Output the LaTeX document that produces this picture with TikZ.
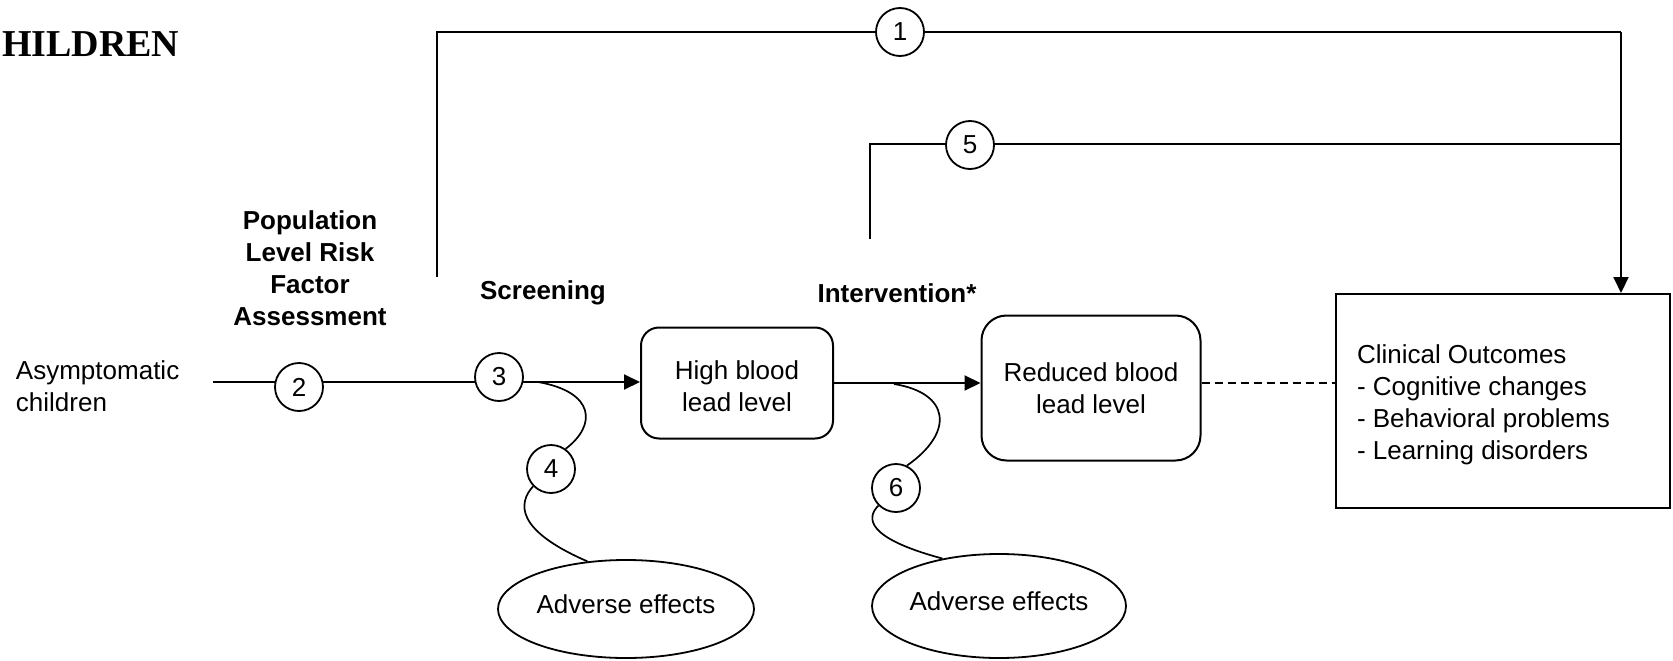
\documentclass[tikz,border=0pt]{standalone}
\usepackage{fontspec}
\setmainfont{Liberation Sans}
\newfontfamily\titlefont{Liberation Serif}
\usetikzlibrary{arrows.meta,shapes.geometric}
\begin{document}
\begin{tikzpicture}[x=1pt,y=-1pt,line width=2pt,
  font=\fontsize{26}{32}\selectfont,
  num/.style={circle,draw,fill=white,minimum size=48pt,inner sep=0pt,line width=1.8pt},
  rbox/.style={draw,rounded corners=18pt,align=center,inner sep=0pt},
  ell/.style={ellipse,draw,inner sep=0pt,line width=1.8pt},
  lab/.style={font=\fontsize{26}{32}\selectfont\bfseries,align=center,inner sep=0pt},
  arr/.style={-{Triangle[length=16pt,width=15pt]}},
  squig/.style={line width=1.7pt}]
\useasboundingbox (0,0) rectangle (1673,661);
\node[anchor=west,inner sep=0pt,font=\titlefont\bfseries\fontsize{38}{38}\selectfont] (title) at (1,44) {HILDREN};
\node[anchor=west,align=left,inner sep=0pt] (asym) at (15,386) {Asymptomatic\\children};
\node[lab] (pop) at (310,268) {Population\\Level Risk\\Factor\\Assessment};
\node[lab] (scr) at (543,293) {Screening};
\node[lab] (int) at (897,293) {Intervention*};
\coordinate (s) at (213,382);
\node[rbox,minimum width=192pt,minimum height=111pt] (high) at (737,383) {};
\node[align=center,inner sep=0pt,yshift=-3pt] (hightext) at (high.center) {High blood\\lead level};
\node[rbox,rounded corners=25pt,minimum width=219pt,minimum height=145pt] (red) at (1091,388) {Reduced blood\\lead level};
\node[draw,minimum width=334pt,minimum height=214pt,inner sep=0pt] (clin) at (1503,401) {};
\node[anchor=west,align=left,inner sep=0pt,xshift=21pt,yshift=-4pt] (clintext) at (clin.west) {Clinical Outcomes\\- Cognitive changes\\- Behavioral problems\\- Learning disorders};
\node[ell,minimum width=256pt,minimum height=98pt] (e1) at (626,609) {\raisebox{9pt}{Adverse effects}};
\node[ell,minimum width=254pt,minimum height=104pt] (e2) at (999,606) {\raisebox{9pt}{Adverse effects}};
\coordinate (p1a) at (437,277);
\coordinate (p1b) at (437,32);
\coordinate (p1c) at (1621,32);
\coordinate (p5a) at (870,239);
\coordinate (p5b) at (870,144);
\coordinate (p5c) at (1621,144);
\coordinate (dy) at (0,383);
\coordinate (q1) at (538,382);
\coordinate (q2) at (894,384);
% main line
\draw[arr] (s) -- (s -| high.west);
\draw[arr] (high.east) -- (high.east -| red.west);
\draw[line width=1.6pt,dash pattern=on 8pt off 5pt] (red.east |- dy) -- (clin.west |- dy);
% top arrows
\draw (p1a) -- (p1b) -- (p1c);
\draw[arr] (p1c) -- (p1c |- clin.north);
\draw (p5a) -- (p5b) -- (p5c);
% numbered circles on the paths
\node[num] (c1) at (900,32) {1};
\node[num] (c5) at (970,145) {5};
\node[num] (c2) at (299,387) {2};
\node[num] (c3) at (499,377) {3};
\node[num] (c4) at (551,469) {4};
\node[num] (c6) at (896,488) {6};
% squiggles
\draw[squig] (q1) .. controls (595,392) and (597,425) .. (c4.54);
\draw[squig] (c4.224) .. controls (518,503) and (515,530) .. (e1.129);
\draw[squig] (q2) .. controls (950,393) and (955,432) .. (c6.64);
\draw[squig] (c6.225) .. controls (866,518) and (866,538) .. (e2.140);
\end{tikzpicture}
\end{document}
